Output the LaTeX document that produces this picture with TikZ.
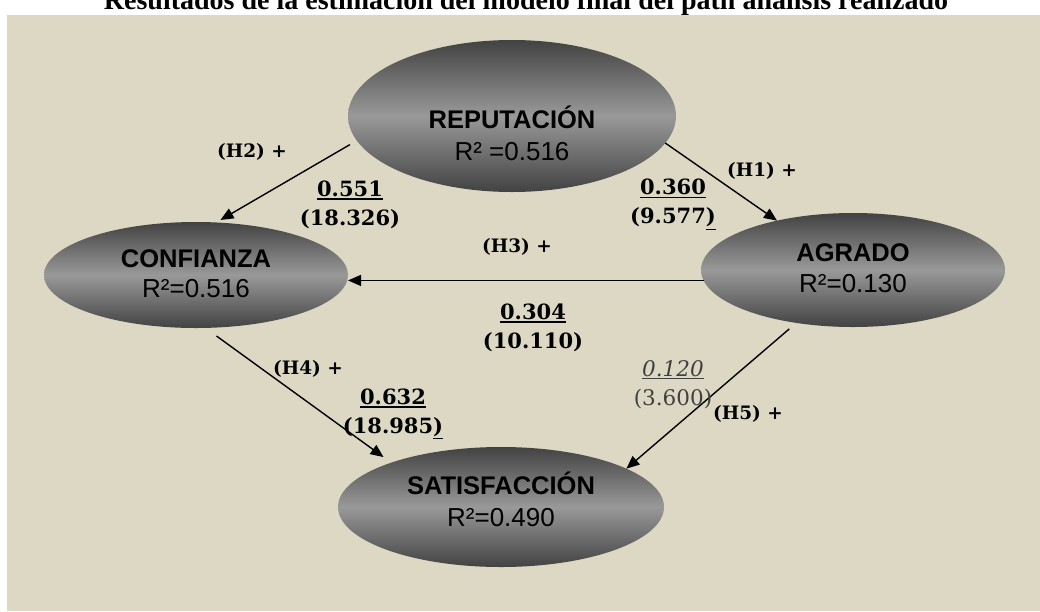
\documentclass[tikz,border=0pt]{standalone}
\usepackage{fontspec}
\setmainfont{Liberation Sans}
\newfontfamily\slabfont{DejaVu Serif}
\newfontfamily\titlefont{Liberation Serif}
\usetikzlibrary{shapes.geometric,arrows.meta}
\definecolor{panelbg}{HTML}{DCD8C3}
\newcommand{\numul}[2][1.6pt]{\leavevmode\vtop{\hbox{#2}\kern1.5pt\hrule height #1}}
\tikzset{
  latent/.style={ellipse, inner sep=0pt, outer sep=0pt, top color=black!74, bottom color=black!74, middle color=black!40},
  vname/.style={anchor=base, font=\fontsize{25.5}{30}\selectfont\bfseries},
  vr2/.style={anchor=base, font=\fontsize{26}{30}\selectfont},
  hyp/.style={font=\slabfont\bfseries\fontsize{18.5}{22}\selectfont},
  coef/.style={align=center, font=\slabfont\bfseries\fontsize{21}{29}\selectfont},
  weak/.style={align=center, text=black!75, font=\slabfont\fontsize{21.5}{29}\selectfont},
  link/.style={line width=1.4pt, -{Triangle[length=13pt,width=11pt]}}
}
\begin{document}
\begin{tikzpicture}[x=1pt, y=-1pt]
    \useasboundingbox (0,0) rectangle (1040,611);
    \node[font=\titlefont\bfseries\fontsize{28}{32}\selectfont, anchor=base] (title) at (526,9) {Resultados de la estimación del modelo final del path análisis realizado};
    \fill[panelbg] (7,15) rectangle (1040,611);

    \node[latent, minimum width=328pt, minimum height=152pt] (rep) at (512,116) {};
    \node[latent, minimum width=304pt, minimum height=106pt] (conf) at (196,275) {};
    \node[latent, minimum width=304pt, minimum height=114pt] (agr) at (853,270) {};
    \node[latent, minimum width=326pt, minimum height=120pt] (sat) at (501,507) {};

    \node[vname] (repname) at (512,128) {REPUTACIÓN};
    \node[vr2] (repr2) at (512,160) {R² =0.516};
    \node[vname] (confname) at (196,267) {CONFIANZA};
    \node[vr2] (confr2) at (196,297) {R²=0.516};
    \node[vname] (agrname) at (853,261) {AGRADO};
    \node[vr2] (agrr2) at (853,292) {R²=0.130};
    \node[vname] (satname) at (501,494) {SATISFACCIÓN};
    \node[vr2] (satr2) at (501,526) {R²=0.490};

    \draw[link] (rep.-10.7) -- (agr.147.4);
    \draw[link, shorten <=8pt, shorten >=5pt] (rep.189) -- (conf.69);
    \draw[link] (agr.184.2) -- (agr.184.2 -| conf.east);
    \draw[link, shorten <=13.8pt, shorten >=9.5pt] (conf.-80.6) -- (sat.158.1);
    \draw[link, shorten <=9.3pt] (agr.223.5) -- (sat.17.4);

    \node[hyp] (h1) at (762,171) {(H1) +};
    \node[hyp] (h2) at (252,152) {(H2) +};
    \node[hyp] (h3) at (517,247) {(H3) +};
    \node[hyp] (h4) at (308,369) {(H4) +};
    \node[hyp] (h5) at (748,414) {(H5) +};

    \node[coef] (c1) at (673,204.5) {\numul{0.360}\\(9.577\numul[1.2pt]{)}};
    \node[coef] (c2) at (350,204.5) {\numul{0.551}\\(18.326)};
    \node[coef] (c3) at (533,327.5) {\numul{0.304}\\(10.110)};
    \node[coef] (c4) at (393,414) {\numul{0.632}\\(18.985\numul[1.2pt]{)}};
    \node[weak] (c5) at (673,384.5) {\numul[1.2pt]{\itshape 0.120}\\(3.600)};
\end{tikzpicture}
\end{document}
